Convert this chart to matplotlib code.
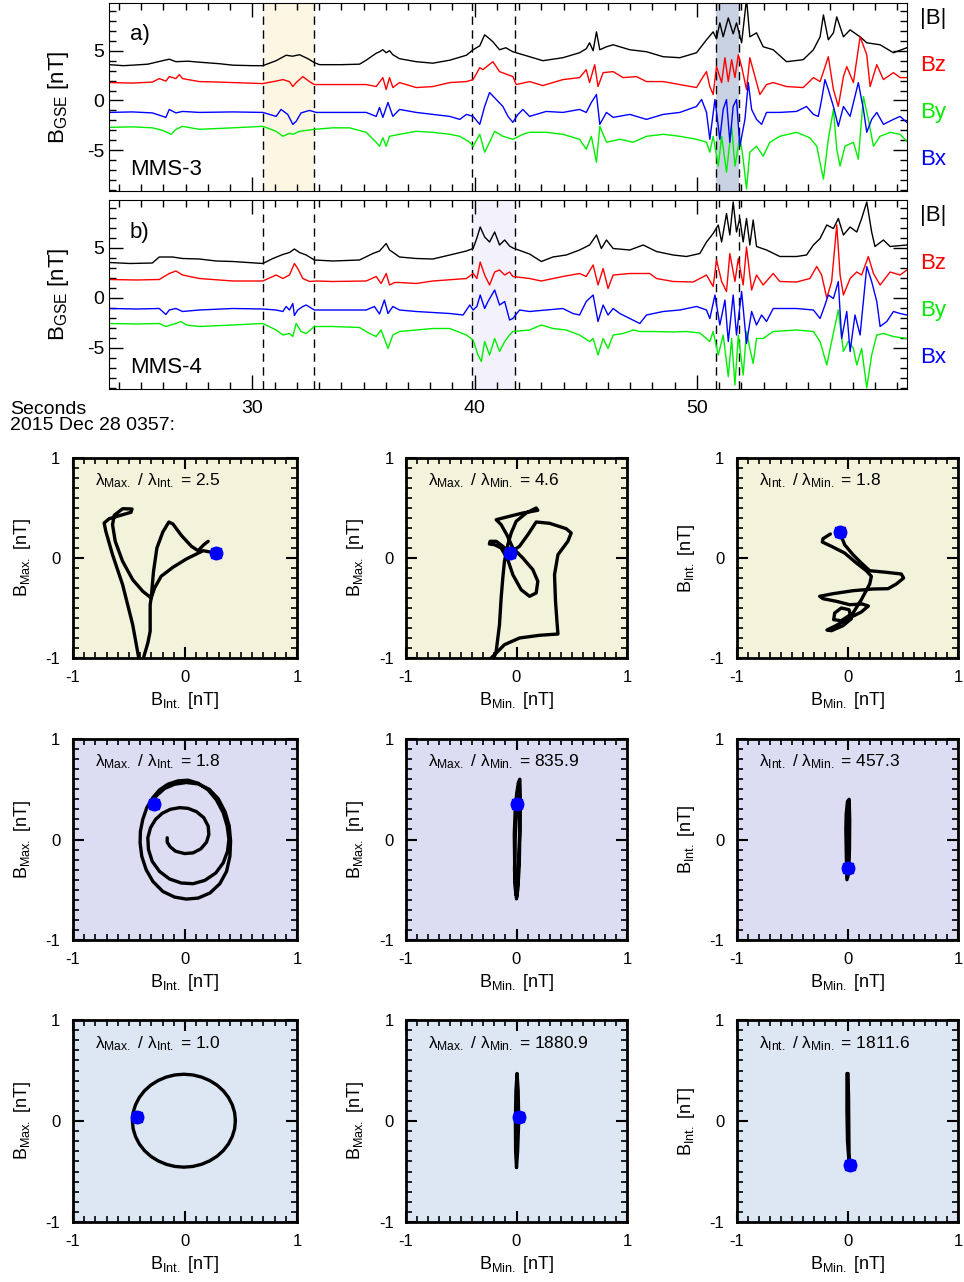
import numpy as np
import matplotlib
matplotlib.use('Agg')
import matplotlib.pyplot as plt
from matplotlib.ticker import MultipleLocator

plt.rcParams['font.family'] = ['Liberation Sans', 'DejaVu Sans']
plt.rcParams['mathtext.fontset'] = 'custom'
plt.rcParams['mathtext.rm'] = 'Liberation Sans'
plt.rcParams['mathtext.it'] = 'Liberation Sans:italic'
plt.rcParams['axes.unicode_minus'] = False

# ---------------- time series (t [s after 03:57], B [nT]) ----------------
# MMS-3
a_bt = [(23.56,3.6),(24.2,3.5),(24.6,3.55),(25.3,3.65),(25.96,4.0),(26.26,4.15),(26.56,3.9),(27.1,3.95),
        (27.61,3.85),(28.5,3.7),(29.12,3.55),(30.0,3.5),(30.47,3.5),(31.07,4.0),(31.52,4.55),(31.8,4.45),
        (32.12,4.6),(32.5,4.2),(32.79,3.8),(33.02,3.6),(34.0,3.6),(34.82,3.65),(35.12,4.05),(35.57,4.75),
        (35.72,4.9),(35.87,5.1),(36.02,4.8),(36.17,5.0),(36.32,4.6),(36.62,4.2),(37.37,3.9),(38.12,3.75),
        (38.88,4.05),(39.63,4.55),(39.93,5.1),(40.23,5.5),(40.45,6.6),(40.67,6.2),(40.82,5.9),(41.12,5.1),
        (41.4,5.3),(41.72,4.9),(42.47,4.4),(43.07,4.0),(43.97,4.3),(44.72,4.8),(45.02,5.2),(45.17,5.8),
        (45.33,5.0),(45.48,6.9),(45.63,5.1),(45.93,5.4),(46.23,5.6),(46.98,5.1),(47.73,4.9),(48.48,4.4),
        (49.23,4.3),(49.98,4.8),(50.43,6.1),(50.73,6.9),(50.88,6.2),(51.03,7.8),(51.18,6.4),(51.41,8.3),
        (51.63,6.7),(51.78,7.8),(52.01,5.8),(52.23,10.2),(52.38,6.4),(52.68,6.8),(52.98,5.4),(53.43,5.1),
        (54.03,3.9),(54.78,4.1),(55.24,5.1),(55.54,6.4),(55.69,8.6),(55.91,6.1),(56.14,6.8),(56.29,8.4),
        (56.59,6.4),(56.89,7.1),(57.34,6.4),(57.64,5.8),(58.24,5.6),(58.84,4.8),(59.44,5.3)]
a_bz = [(23.56,1.8),(24.6,1.75),(25.5,1.85),(25.81,2.2),(26.11,1.95),(26.26,2.4),(26.56,2.2),(26.71,2.6),
        (26.86,2.2),(27.61,1.9),(28.5,1.85),(29.12,1.8),(30.47,1.7),(31.07,1.95),(31.37,2.1),(31.67,1.9),
        (31.82,1.4),(31.97,1.8),(32.27,2.4),(32.57,1.9),(32.79,1.6),(33.62,1.6),(35.12,1.6),(35.57,1.4),
        (35.87,2.3),(36.02,1.1),(36.17,2.3),(36.32,1.3),(36.62,1.8),(37.37,1.3),(38.12,1.4),(38.88,1.8),
        (39.63,1.9),(39.93,2.1),(40.23,3.3),(40.37,3.1),(40.82,3.9),(41.12,2.9),(41.72,2.4),(41.87,1.6),
        (42.47,1.9),(43.07,1.5),(43.97,2.1),(44.72,2.3),(45.02,3.1),(45.17,1.8),(45.40,3.6),(45.55,1.4),
        (45.78,2.8),(46.23,2.9),(46.68,2.3),(47.28,2.4),(47.73,1.9),(48.48,1.9),(49.23,1.6),(49.98,1.3),
        (50.28,2.4),(50.43,2.9),(50.58,1.4),(50.73,0.6),(50.88,3.4),(51.11,1.8),(51.26,4.3),(51.41,1.9),
        (51.56,4.1),(51.71,2.3),(51.86,4.6),(52.01,3.4),(52.23,1.1),(52.38,4.3),(52.61,2.4),(52.83,0.6),
        (53.13,1.6),(53.43,1.8),(54.03,1.4),(54.78,1.3),(55.24,2.3),(55.54,1.9),(55.69,2.9),(55.91,4.4),
        (56.14,1.1),(56.36,-0.6),(56.59,2.4),(56.74,3.4),(57.04,1.8),(57.34,6.4),(57.64,4.6),(57.79,1.4),
        (58.09,3.6),(58.39,2.1),(58.84,2.8),(59.14,2.3),(59.44,2.3)]
a_bx = [(23.56,-1.2),(24.6,-1.15),(25.5,-1.25),(26.11,-1.7),(26.26,-0.9),(26.56,-1.25),(26.86,-1.1),
        (27.61,-1.2),(29.12,-1.15),(30.47,-1.2),(31.07,-1.6),(31.29,-0.9),(31.59,-1.4),(31.82,-2.4),
        (31.97,-2.1),(32.19,-1.25),(32.57,-1.0),(32.87,-1.2),(33.62,-1.2),(35.12,-1.2),(35.57,-1.6),
        (35.72,-0.7),(35.87,-1.7),(36.10,-0.2),(36.32,-1.6),(36.62,-0.9),(37.37,-1.2),(38.12,-1.4),
        (38.88,-1.6),(39.33,-1.9),(39.63,-1.4),(39.93,-1.6),(40.23,-2.4),(40.45,-0.6),(40.67,0.8),
        (40.97,0.1),(41.27,-0.6),(41.50,-1.6),(41.72,-2.2),(41.95,-1.4),(42.17,-0.9),(42.47,-1.6),
        (43.22,-1.1),(43.97,-1.2),(44.72,-0.9),(45.02,-1.2),(45.25,-0.2),(45.48,0.6),(45.63,-2.4),
        (45.93,-1.2),(46.23,-1.7),(46.98,-1.4),(47.73,-1.9),(48.48,-1.4),(49.23,-1.2),(49.98,-0.6),
        (50.21,0.1),(50.43,-1.2),(50.58,-3.9),(50.81,0.1),(51.03,-3.9),(51.18,-0.9),(51.33,0.1),
        (51.48,-4.2),(51.63,-0.6),(51.78,0.1),(51.93,-4.6),(52.16,-1.9),(52.31,1.8),(52.46,-0.9),
        (52.68,-1.9),(52.91,-2.4),(53.13,-1.2),(53.73,-1.2),(54.48,-1.1),(54.93,-0.6),(55.24,-1.4),
        (55.46,-1.6),(55.61,0.1),(55.76,2.1),(55.91,1.1),(56.14,-0.6),(56.36,-2.6),(56.59,-0.6),
        (56.89,-1.6),(57.26,1.8),(57.49,-0.9),(57.64,-3.2),(57.86,-1.9),(58.09,-1.2),(58.39,-2.4),
        (58.84,-1.9),(59.14,-1.6),(59.44,-2.2)]
a_by = [(23.56,-2.7),(24.6,-2.65),(25.5,-2.75),(25.96,-3.0),(26.34,-3.4),(26.56,-2.9),(26.86,-2.6),
        (27.61,-2.9),(29.12,-2.75),(30.47,-2.6),(31.07,-3.1),(31.37,-3.6),(31.67,-3.3),(31.82,-3.4),
        (32.12,-3.1),(32.79,-2.9),(33.62,-2.75),(34.37,-2.75),(35.12,-3.2),(35.57,-4.2),(35.72,-4.6),
        (35.87,-3.75),(36.02,-4.6),(36.17,-3.6),(36.62,-3.4),(37.37,-3.1),(38.12,-3.2),(38.88,-3.4),
        (39.33,-3.6),(39.78,-4.2),(39.93,-4.6),(40.23,-3.4),(40.45,-5.2),(40.67,-4.2),(40.90,-3.1),
        (41.27,-3.6),(41.72,-3.9),(42.17,-3.4),(42.47,-3.2),(43.22,-3.2),(43.97,-3.4),(44.72,-3.9),
        (45.02,-4.9),(45.25,-3.6),(45.48,-6.2),(45.63,-2.6),(45.93,-4.2),(46.53,-3.9),(47.13,-4.2),
        (47.73,-3.6),(48.48,-3.4),(49.23,-3.6),(49.98,-3.9),(50.43,-4.2),(50.58,-5.2),(50.73,-3.6),
        (50.96,-6.6),(51.11,-3.6),(51.33,-7.2),(51.56,-2.6),(51.71,-6.6),(51.93,-3.6),(52.08,-5.9),
        (52.23,-8.9),(52.38,-5.2),(52.68,-4.6),(52.98,-5.6),(53.28,-4.2),(53.73,-3.6),(54.48,-3.2),
        (55.08,-3.75),(55.39,-4.6),(55.69,-7.9),(55.91,-3.9),(56.14,-0.9),(56.29,-4.9),(56.44,-6.6),
        (56.66,-4.6),(57.04,-4.2),(57.26,-5.9),(57.49,0.4),(57.71,-1.9),(57.94,-4.6),(58.24,-3.6),
        (58.69,-3.2),(59.14,-3.4),(59.44,-4.1)]

# MMS-4
b_bt = [(23.56,3.55),(24.5,3.45),(25.5,3.5),(25.81,4.1),(26.4,4.1),(26.86,3.95),(27.61,3.9),(28.37,3.7),
        (29.12,3.65),(30.47,3.45),(30.92,3.95),(31.37,4.35),(31.67,4.55),(31.89,4.9),(32.12,4.55),
        (32.42,4.3),(32.79,3.8),(33.62,3.7),(34.82,3.8),(35.42,4.45),(35.72,4.7),(36.02,5.45),(36.17,4.8),
        (36.40,4.45),(36.62,4.1),(37.37,3.95),(38.12,3.9),(38.88,4.3),(39.63,4.7),(39.93,4.95),(40.1,6.0),
        (40.25,7.1),(40.45,6.1),(40.67,5.6),(40.90,6.6),(41.12,5.3),(41.35,5.8),(41.57,5.2),(41.72,5.0),
        (42.47,4.4),(43.0,3.65),(43.52,4.1),(44.12,4.3),(44.72,4.8),(45.17,5.3),(45.48,6.3),(45.70,4.95),
        (45.93,5.8),(46.23,4.95),(46.98,4.8),(47.58,5.3),(48.18,4.65),(48.93,4.3),(49.53,4.15),(50.13,4.45),
        (50.43,5.6),(50.73,6.45),(50.96,7.3),(51.11,5.6),(51.33,8.45),(51.48,6.3),(51.63,9.6),(51.78,6.6),
        (51.93,7.95),(52.08,5.6),(52.23,7.95),(52.38,5.3),(52.53,7.8),(52.68,5.15),(53.13,4.8),(53.73,4.15),
        (54.48,4.15),(54.93,4.3),(55.24,5.3),(55.54,5.95),(55.84,7.3),(56.14,6.95),(56.36,7.95),(56.59,6.3),
        (56.89,7.1),(57.19,6.6),(57.41,7.95),(57.64,9.6),(57.86,6.6),(58.01,5.15),(58.39,5.8),(58.69,5.15),
        (59.44,5.3)]
b_bz = [(23.56,1.85),(24.8,1.8),(25.81,1.85),(26.26,2.45),(26.56,2.7),(26.86,2.3),(27.61,1.95),(29.12,1.7),
        (30.47,1.7),(31.07,2.3),(31.37,1.95),(31.67,2.3),(31.89,3.45),(32.04,2.95),(32.27,1.95),(32.57,1.65),
        (32.87,1.7),(33.62,1.65),(35.12,1.7),(35.57,2.15),(35.79,1.45),(36.02,2.45),(36.17,1.3),(36.40,1.55),
        (36.62,1.55),(37.37,1.45),(38.12,1.7),(39.63,1.95),(39.93,2.45),(40.1,1.95),(40.25,3.6),(40.45,2.3),
        (40.67,1.3),(40.90,2.6),(41.12,2.8),(41.35,2.3),(41.57,2.6),(41.72,2.15),(42.47,1.95),(42.99,1.7),
        (43.97,2.15),(44.72,2.45),(45.02,2.15),(45.33,3.3),(45.55,1.3),(45.78,2.95),(46.0,0.95),(46.23,2.3),
        (46.98,2.45),(47.88,2.45),(48.18,1.95),(48.93,1.65),(49.83,1.6),(50.43,2.3),(50.73,1.15),(50.88,3.8),
        (51.11,1.65),(51.33,0.65),(51.48,4.45),(51.71,1.65),(51.86,3.95),(52.08,1.3),(52.23,5.1),(52.46,0.8),
        (52.68,2.3),(52.98,1.3),(53.43,2.45),(53.73,1.65),(54.48,1.6),(55.08,1.95),(55.39,3.15),(55.61,2.3),
        (55.84,0.0),(56.06,1.65),(56.29,7.3),(56.44,2.3),(56.59,0.3),(56.89,1.95),(57.19,2.6),(57.41,2.3),
        (57.71,4.15),(57.94,2.45),(58.24,1.3),(58.69,2.6),(59.14,2.3),(59.44,2.8)]
b_bx = [(23.56,-1.05),(24.8,-1.1),(25.81,-1.05),(26.11,-1.65),(26.26,-1.2),(26.56,-1.05),(26.86,-1.35),
        (27.61,-1.2),(29.12,-1.05),(30.47,-1.1),(31.07,-1.2),(31.37,-1.35),(31.52,-0.85),(31.67,-1.2),
        (31.82,-0.55),(31.89,-1.75),(32.04,-1.2),(32.27,-0.85),(32.42,-0.7),(32.79,-1.2),(33.62,-1.2),
        (35.12,-1.2),(35.49,-0.85),(35.72,-1.6),(35.94,-0.2),(36.10,-1.55),(36.32,-0.85),(36.62,-1.2),
        (37.37,-1.35),(38.12,-1.45),(38.88,-1.55),(39.48,-1.7),(39.78,-0.7),(39.93,-1.2),(40.1,-0.85),
        (40.25,0.3),(40.45,-1.05),(40.60,-0.35),(40.90,0.8),(41.12,-0.7),(41.35,-0.35),(41.57,-2.2),
        (41.72,-2.05),(42.02,-1.2),(42.47,-1.35),(43.22,-1.2),(43.97,-1.05),(44.42,-1.55),(44.72,-1.7),
        (45.02,-0.35),(45.33,0.3),(45.55,-2.35),(45.78,-0.7),(46.0,-1.7),(46.23,-1.05),(46.53,-1.55),
        (46.98,-2.05),(47.43,-2.55),(47.73,-1.7),(48.48,-1.35),(49.23,-1.2),(49.98,-0.85),(50.43,-1.2),
        (50.58,-2.05),(50.81,0.3),(51.03,-2.7),(51.26,-0.2),(51.41,-4.35),(51.63,0.3),(51.78,-3.7),
        (52.01,0.65),(52.23,-4.55),(52.46,-1.35),(52.68,-2.7),(52.91,-1.7),(53.13,-2.35),(53.43,-1.05),
        (54.48,-1.05),(55.24,-1.2),(55.54,-2.05),(55.76,-0.7),(55.91,0.3),(56.14,-0.05),(56.36,1.65),
        (56.51,-4.05),(56.74,-1.35),(56.89,-5.35),(57.11,-1.7),(57.34,-3.7),(57.64,3.15),(57.86,1.65),
        (58.09,-0.35),(58.24,-2.85),(58.54,-2.35),(58.84,-1.35),(59.14,-1.55),(59.44,-1.7)]
b_by = [(23.56,-2.55),(24.8,-2.6),(25.81,-2.55),(26.11,-2.85),(26.56,-2.55),(26.79,-2.35),(27.04,-2.7),
        (27.61,-2.85),(29.12,-2.7),(30.47,-2.55),(31.07,-3.2),(31.37,-3.7),(31.67,-3.55),(31.82,-3.85),
        (31.97,-2.55),(32.19,-3.35),(32.42,-3.55),(32.79,-2.85),(33.62,-2.85),(34.82,-2.95),(35.27,-3.55),
        (35.57,-3.85),(35.79,-3.2),(36.02,-4.55),(36.10,-5.05),(36.32,-3.7),(36.62,-3.35),(37.37,-3.2),
        (38.12,-3.05),(38.88,-3.05),(39.63,-3.7),(39.93,-4.2),(40.15,-5.7),(40.3,-6.35),(40.45,-4.35),
        (40.67,-5.7),(40.90,-4.05),(41.12,-5.35),(41.35,-4.35),(41.57,-3.7),(41.72,-3.35),(42.47,-3.2),
        (43.0,-2.7),(43.52,-3.05),(44.12,-3.2),(44.72,-3.7),(45.17,-4.35),(45.33,-4.05),(45.55,-5.7),
        (45.78,-4.05),(46.0,-5.05),(46.23,-3.7),(46.68,-3.55),(47.13,-3.2),(47.43,-3.35),(48.03,-3.35),
        (48.93,-3.4),(49.53,-3.35),(50.13,-3.5),(50.58,-4.35),(50.73,-3.35),(50.96,-5.7),(51.18,-3.7),
        (51.41,-7.85),(51.56,-4.05),(51.71,-8.7),(51.86,-3.7),(52.08,-7.7),(52.23,-3.35),(52.38,-5.05),
        (52.53,-6.55),(52.68,-4.05),(52.98,-4.05),(53.43,-3.35),(54.48,-3.2),(55.24,-3.35),(55.54,-4.35),
        (55.84,-6.7),(56.06,-4.35),(56.36,-1.2),(56.59,-5.35),(56.81,-4.35),(57.04,-5.05),(57.19,-6.7),
        (57.41,-5.05),(57.64,-9.0),(57.86,-5.7),(58.09,-3.7),(58.39,-3.55),(58.84,-3.85),(59.44,-4.05)]

comp_names = ['|B|', 'Bz', 'By', 'Bx']
comp_colors = ['black', '#ff0000', '#00ee00', '#0000ff']
bands_a = [(30.49, 32.78, '#fdf6e3'), (50.86, 51.9, '#c9d2e2')]
bands_b = [(39.9, 41.8, '#f3f1fc')]
dash_times = [30.49, 32.78, 39.88, 41.8, 50.86, 51.9]

# ---------------- hodograms (x, y) in nT ----------------
h11 = [(0.275,0.05),(0.162,0.073),(0.012,-0.01),(-0.108,-0.093),(-0.213,-0.183),(-0.272,-0.30),(-0.302,-0.40),
       (-0.377,-0.333),(-0.467,-0.217),(-0.557,-0.033),(-0.623,0.167),(-0.647,0.333),(-0.632,0.427),
       (-0.557,0.493),(-0.473,0.49),(-0.482,0.457),(-0.557,0.433),(-0.677,0.393),(-0.722,0.35),(-0.707,0.267),
       (-0.647,0.033),(-0.557,-0.267),(-0.467,-0.667),(-0.413,-1.0),(-0.407,-1.13),(-0.362,-1.13),(-0.371,-1.0),
       (-0.332,-0.85),(-0.311,-0.733),(-0.311,-0.467),(-0.302,-0.40),(-0.281,-0.133),(-0.251,0.10),
       (-0.198,0.26),(-0.144,0.36),(-0.108,0.34),(-0.033,0.227),(0.057,0.117),(0.117,0.073),(0.168,0.133),
       (0.207,0.167)]
h12 = [(-0.063,0.05),(0.027,0.117),(0.103,0.233),(0.178,0.36),(0.299,0.347),(0.45,0.293),(0.495,0.25),
       (0.465,0.167),(0.375,0.033),(0.344,-0.167),(0.353,-0.433),(0.366,-0.633),(0.375,-0.76),(0.208,-0.773),
       (0.027,-0.80),(-0.109,-0.867),(-0.199,-0.967),(-0.26,-1.033),(-0.275,-1.083),(-0.215,-1.033),
       (-0.184,-0.933),(-0.154,-0.667),(-0.139,-0.40),(-0.124,-0.20),(-0.109,-0.033),(-0.079,0.133),
       (-0.048,0.25),(-0.003,0.367),(0.088,0.45),(0.178,0.50),(0.193,0.477),(0.057,0.45),(-0.063,0.417),
       (-0.184,0.383),(-0.139,0.333),(-0.088,0.233),(-0.033,0.10),(0.057,0.0),(0.148,-0.117),(0.193,-0.233),
       (0.178,-0.35),(0.118,-0.383),(0.042,-0.317),(-0.033,-0.167),(-0.079,-0.017),(-0.139,0.10),
       (-0.199,0.133),(-0.245,0.14),(-0.239,0.167),(-0.184,0.167),(-0.124,0.117),(-0.063,0.05)]
h13 = [(-0.071,0.26),(-0.026,0.133),(0.050,0.033),(0.125,-0.05),(0.201,-0.127),(0.351,-0.143),(0.487,-0.16),
       (0.508,-0.20),(0.442,-0.26),(0.367,-0.307),(0.231,-0.31),(0.050,-0.327),(-0.131,-0.357),(-0.252,-0.383),
       (-0.222,-0.407),(-0.101,-0.433),(0.020,-0.467),(0.134,-0.46),(0.189,-0.48),(0.125,-0.54),(0.005,-0.607),
       (-0.116,-0.683),(-0.186,-0.72),(-0.146,-0.727),(-0.041,-0.677),(0.035,-0.607),(0.014,-0.517),
       (-0.056,-0.50),(-0.116,-0.55),(-0.125,-0.617),(-0.056,-0.627),(0.050,-0.55),(0.125,-0.417),
       (0.201,-0.26),(0.216,-0.183),(0.170,-0.127),(0.080,-0.05),(-0.026,0.05),(-0.146,0.117),(-0.228,0.16),
       (-0.222,0.193),(-0.155,0.24)]
h21 = [(-0.159,0.017),(-0.159,-0.027),(-0.132,-0.073),(-0.084,-0.117),(-0.003,-0.14),(0.072,-0.133),
       (0.141,-0.093),(0.192,-0.027),(0.213,0.05),(0.207,0.133),(0.168,0.217),(0.102,0.277),(0.027,0.31),
       (-0.048,0.317),(-0.132,0.30),(-0.204,0.26),(-0.263,0.20),(-0.308,0.117),(-0.332,0.017),(-0.326,-0.10),
       (-0.293,-0.217),(-0.228,-0.317),(-0.138,-0.393),(-0.033,-0.433),(0.072,-0.44),(0.177,-0.407),
       (0.275,-0.333),(0.341,-0.233),(0.380,-0.117),(0.392,0.0),(0.377,0.133),(0.341,0.267),(0.281,0.393),
       (0.207,0.493),(0.117,0.56),(0.027,0.59),(-0.063,0.583),(-0.153,0.55),(-0.228,0.493),(-0.287,0.417),
       (-0.341,0.317),(-0.377,0.20),(-0.398,0.083),(-0.401,-0.033),(-0.386,-0.167),(-0.347,-0.30),
       (-0.287,-0.417),(-0.198,-0.517),(-0.093,-0.573),(0.012,-0.593),(0.117,-0.583),(0.222,-0.533),
       (0.311,-0.44),(0.371,-0.317),(0.401,-0.167),(0.407,-0.017),(0.395,0.133),(0.359,0.273),(0.296,0.407),
       (0.216,0.50),(0.117,0.553),(0.012,0.567),(-0.093,0.55),(-0.183,0.507),(-0.257,0.433),(-0.287,0.36)]
h22 = [(0.0,-0.59),(0.01,-0.45),(0.02,-0.2),(0.03,0.1),(0.035,0.4),(0.03,0.6),(0.015,0.56),(0.0,0.3),
       (-0.012,0.0),(-0.018,-0.3),(-0.01,-0.5),(0.0,-0.58),(0.012,-0.5),(0.025,-0.25),(0.03,0.05),(0.025,0.45),
       (0.01,0.52),(-0.01,0.35),(-0.02,0.05),(-0.015,-0.35),(-0.005,-0.55)]
h23 = [(-0.005,-0.40),(-0.01,-0.2),(-0.015,0.1),(-0.012,0.25),(0.0,0.38),(0.015,0.40),(0.02,0.2),(0.018,-0.1),
       (0.01,-0.3),(0.0,-0.38),(0.008,-0.25),(0.012,0.1),(0.01,0.35)]
h31 = [(0.45,0.003),(0.443,0.083),(0.422,0.160),(0.388,0.233),(0.342,0.299),(0.286,0.355),(0.22,0.401),
       (0.147,0.435),(0.07,0.456),(-0.01,0.463),(-0.09,0.456),(-0.167,0.435),(-0.24,0.401),(-0.306,0.355),
       (-0.362,0.299),(-0.408,0.233),(-0.442,0.160),(-0.463,0.083),(-0.47,0.003),(-0.463,-0.077),
       (-0.442,-0.154),(-0.408,-0.227),(-0.362,-0.293),(-0.306,-0.349),(-0.24,-0.395),(-0.167,-0.429),
       (-0.09,-0.450),(-0.01,-0.457),(0.07,-0.450),(0.147,-0.429),(0.22,-0.395),(0.286,-0.349),(0.342,-0.293),
       (0.388,-0.227),(0.422,-0.154),(0.443,-0.077),(0.45,0.003)]
h32 = [(0.0,-0.46),(0.01,-0.3),(0.02,0.0),(0.015,0.3),(0.005,0.47),(-0.005,0.3),(-0.01,0.0),(-0.008,-0.3),
       (0.0,-0.46)]
h33 = [(0.015,-0.43),(0.0,-0.2),(-0.005,0.1),(-0.005,0.47),(0.005,0.47),(0.01,0.2),(0.012,-0.1),(0.015,-0.43)]

hodo_curves = [[h11, h12, h13], [h21, h22, h23], [h31, h32, h33]]
hodo_start = [[(0.275, 0.05), (-0.063, 0.05), (-0.071, 0.26)],
              [(-0.281, 0.355), (0.0, 0.355), (0.0, -0.283)],
              [(-0.433, 0.044), (0.02, 0.044), (0.02, -0.44)]]
ratios = [['2.5', '4.6', '1.8'], ['1.8', '835.9', '457.3'], ['1.0', '1880.9', '1811.6']]
ratio_kind = [('Max.', 'Int.'), ('Max.', 'Min.'), ('Int.', 'Min.')]
hodo_axes = [('Int.', 'Max.'), ('Min.', 'Max.'), ('Min.', 'Int.')]
row_colors = ['#f3f3dc', '#dcdcf2', '#dde6f3']

# ---------------- figure ----------------
W, H = 964, 1282
fig = plt.figure(figsize=(W / 100, H / 100), dpi=100)


def rect(l, t, r, b):
    return [l / W, 1 - b / H, (r - l) / W, (b - t) / H]


def ts_panel(box, series, bands, letter, sc):
    ax = fig.add_axes(rect(*box))
    for t0, t1, col in bands:
        ax.axvspan(t0, t1, color=col, lw=0, zorder=0)
    for tt in dash_times:
        ax.axvline(tt, color='black', lw=1.0, ls=(0, (6, 4)), zorder=1)
    for d, col in zip(series, comp_colors):
        t, v = np.array(d).T
        ax.plot(t, v, color=col, lw=1.0, zorder=2)
    ax.set_xlim(23.55, 59.45)
    ax.set_ylim(-9.1, 9.8)
    ax.xaxis.set_major_locator(MultipleLocator(10))
    ax.xaxis.set_minor_locator(MultipleLocator(1))
    ax.yaxis.set_major_locator(MultipleLocator(5))
    ax.yaxis.set_minor_locator(MultipleLocator(1))
    ax.tick_params(which='both', direction='in', top=True, right=True, labelsize=14)
    ax.tick_params(which='major', length=10, width=1)
    ax.tick_params(which='minor', length=5, width=1)
    ax.set_ylabel('B$_{\\mathrm{GSE}}$ [nT]', fontsize=16, labelpad=11)
    ax.text(0.026, 0.83, letter, transform=ax.transAxes, fontsize=16, va='center')
    ax.text(0.026, 0.115, sc, transform=ax.transAxes, fontsize=16, va='center')
    ypos = [0.92, 0.665, 0.415, 0.165]
    for name, col, yy in zip(comp_names, comp_colors, ypos):
        ax.text(1.016, yy, name, transform=ax.transAxes, color=col, fontsize=16, va='center')
    return ax


ax_a = ts_panel((109, 3, 907, 191), [a_bt, a_bz, a_by, a_bx], bands_a, 'a)', 'MMS-3')
ax_a.tick_params(labelbottom=False)
ax_b = ts_panel((109, 200, 907, 389), [b_bt, b_bz, b_by, b_bx], bands_b, 'b)', 'MMS-4')
ax_b.tick_params(axis='x', pad=8)
fig.text(10 / W, 1 - 409 / H, 'Seconds', fontsize=14, va='center')
fig.text(10 / W, 1 - 426 / H, '2015 Dec 28 0357:', fontsize=14, va='center')

cols = [(73, 297), (406, 627), (737, 958)]
rows = [(458, 658), (739, 940), (1020, 1222)]
for i, (top, bot) in enumerate(rows):
    for j, (left, right) in enumerate(cols):
        ax = fig.add_axes(rect(left, top, right, bot))
        ax.set_facecolor(row_colors[i])
        x, y = np.array(hodo_curves[i][j]).T
        ax.plot(x, y, color='black', lw=2.4, solid_capstyle='round', solid_joinstyle='round')
        sx, sy = hodo_start[i][j]
        ax.plot(sx, sy, 'o', color='#0000ff', ms=9, zorder=5)
        ax.plot(sx, sy, 's', color='#0000ff', ms=7, zorder=5)
        ax.set_xlim(-1, 1)
        ax.set_ylim(-1, 1)
        ax.xaxis.set_major_locator(MultipleLocator(1))
        ax.xaxis.set_minor_locator(MultipleLocator(0.1))
        ax.yaxis.set_major_locator(MultipleLocator(1))
        ax.yaxis.set_minor_locator(MultipleLocator(0.1))
        ax.tick_params(which='both', direction='in', top=True, right=True, labelsize=12)
        ax.tick_params(which='major', length=8, width=1.5, pad=9)
        ax.tick_params(which='minor', length=4, width=1.2)
        for s in ax.spines.values():
            s.set_linewidth(2)
        xa, ya = hodo_axes[j]
        ax.set_xlabel('B$_{\\mathrm{%s}}$ [nT]' % xa, fontsize=13, labelpad=3)
        ax.set_ylabel('B$_{\\mathrm{%s}}$ [nT]' % ya, fontsize=13, labelpad=9)
        n, d = ratio_kind[j]
        ax.text(0.1, 0.885, 'λ$_{\\mathrm{%s}}$ / λ$_{\\mathrm{%s}}$ = %s' % (n, d, ratios[i][j]),
                transform=ax.transAxes, fontsize=12.5, va='center')

fig.savefig('out.png', dpi=100)
